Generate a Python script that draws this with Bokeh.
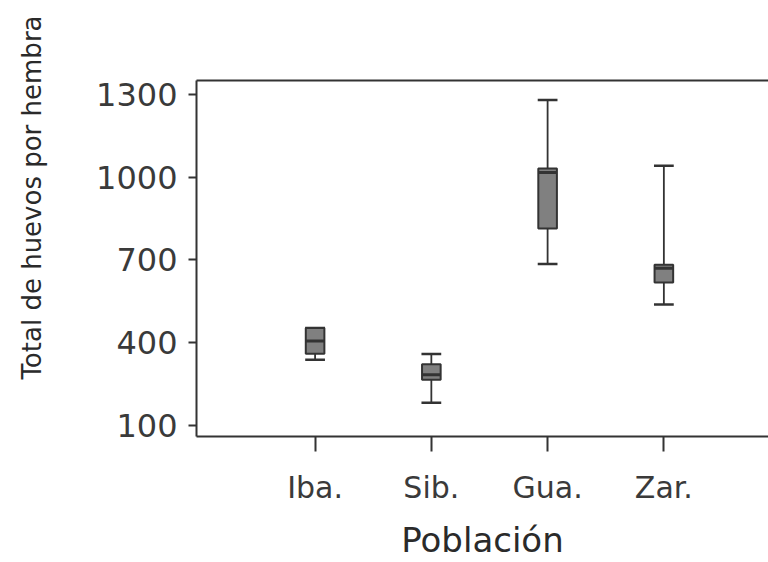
from bokeh.plotting import figure
from bokeh.models import LinearAxis, FixedTicker, Range1d, ColumnDataSource, Title
from bokeh.embed import file_html
from bokeh.resources import INLINE

categories = ["Iba.", "Sib.", "Gua.", "Zar."]
lower_whisker = [338, 182, 685, 538]
q1 = [360, 266, 814, 618]
median = [406, 284, 1017, 670]
q3 = [453, 322, 1031, 682]
upper_whisker = [453, 359, 1279, 1041]
y_ticks = [100, 400, 700, 1000, 1300]

pos = [i + 1 for i in range(len(categories))]
box_w = 0.16
cap_w = 0.17

src = ColumnDataSource(dict(
    x=pos, lw=lower_whisker, q1=q1, med=median, q3=q3, uw=upper_whisker,
    x0=[x - box_w / 2 for x in pos], x1=[x + box_w / 2 for x in pos],
    c0=[x - cap_w / 2 for x in pos], c1=[x + cap_w / 2 for x in pos],
))

FONT = "DejaVu Sans"
AX = "#333333"

p = figure(width=768, height=562, output_backend="svg", toolbar_location=None,
           x_range=Range1d(-0.02, 4.9), y_range=Range1d(60, 1350),
           min_border_left=196, min_border_right=0, min_border_top=80,
           min_border_bottom=126, x_axis_location=None, y_axis_location=None)
p.outline_line_color = None
p.grid.grid_line_color = None
p.background_fill_color = "white"
p.border_fill_color = "white"

# whiskers
p.segment(x0="x", y0="lw", x1="x", y1="q1", source=src, line_color=AX, line_width=1.8)
p.segment(x0="x", y0="q3", x1="x", y1="uw", source=src, line_color=AX, line_width=1.8)
p.segment(x0="c0", y0="lw", x1="c1", y1="lw", source=src, line_color=AX, line_width=2.5)
p.segment(x0="c0", y0="uw", x1="c1", y1="uw", source=src, line_color=AX, line_width=2.5)
# boxes
p.vbar(x="x", width=box_w, bottom="q1", top="q3", source=src,
       fill_color="#808080", line_color=AX, line_width=2)
p.segment(x0="x0", y0="med", x1="x1", y1="med", source=src, line_color=AX, line_width=3)

yax = LinearAxis(ticker=FixedTicker(ticks=y_ticks), axis_label=" ")
xax = LinearAxis(ticker=FixedTicker(ticks=pos), axis_label="Población",
                 major_label_overrides={x: c for x, c in zip(pos, categories)})
top = LinearAxis(ticker=FixedTicker(ticks=[]))
for ax in (yax, xax, top):
    ax.axis_line_color = AX
    ax.axis_line_width = 2
    ax.major_tick_line_color = AX
    ax.major_tick_line_width = 2
    ax.minor_tick_line_color = None
    ax.major_tick_in = 0
    ax.major_label_text_font = FONT
    ax.major_label_text_color = "#3a3a3a"
    ax.axis_label_text_font = FONT
    ax.axis_label_text_font_style = "normal"
    ax.axis_label_text_color = "#2a2a2a"
yax.major_label_text_font_size = "32px"
yax.major_tick_out = 8
yax.major_label_standoff = 11
yax.axis_label_text_font_size = "1px"
yax.axis_label_standoff = 32
xax.major_label_text_font_size = "30px"
xax.axis_label_text_font_size = "34px"
xax.major_tick_out = 15
xax.major_label_standoff = 18
xax.axis_label_standoff = 12
top.major_tick_out = 0
top.major_label_text_font_size = "0px"
top.axis_label = None

ytitle = Title(text="Total de huevos por hembra", align="right", offset=-65,
               text_font=FONT, text_font_style="normal", text_font_size="26px",
               text_color="#2a2a2a", standoff=20)

p.add_layout(yax, "left")
p.add_layout(ytitle, "left")
p.add_layout(xax, "below")
p.add_layout(top, "above")

open("out.html", "w").write(file_html(p, INLINE))
